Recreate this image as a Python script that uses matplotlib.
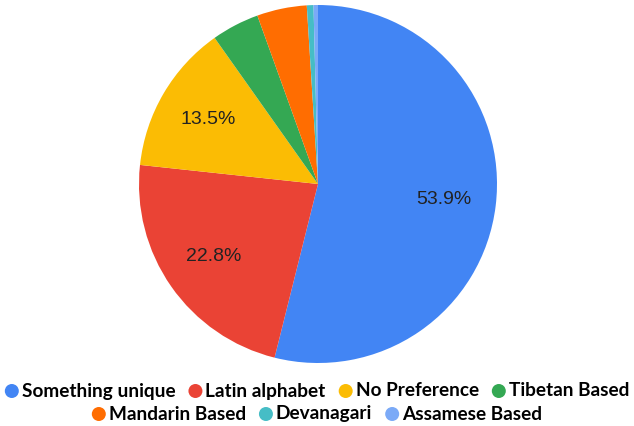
import matplotlib
matplotlib.use("Agg")
import matplotlib.pyplot as plt
from matplotlib.patches import Ellipse

categories = ["Something unique", "Latin alphabet", "No Preference", "Tibetan Based",
              "Mandarin Based", "Devanagari", "Assamese Based"]
values = [53.9, 22.8, 13.5, 4.3, 4.5, 0.6, 0.4]
colors = ["#4285F4", "#EA4335", "#FBBC04", "#34A853", "#FF6D01", "#46BDC6", "#7BAAF7"]
legend_rows = [categories[:4], categories[4:]]

W, H = 634, 426
fig = plt.figure(figsize=(W / 100, H / 100), dpi=100)

cx, cy, r = 318, 184, 179
ax = fig.add_axes([(cx - r) / W, (H - cy - r) / H, 2 * r / W, 2 * r / H])


def fmt(p):
    return f"{p:.1f}%" if p > 5 else ""


wedges, texts, autotexts = ax.pie(values, colors=colors, startangle=90, counterclock=False,
                                  autopct=fmt, pctdistance=0.71,
                                  wedgeprops=dict(linewidth=0),
                                  textprops=dict(fontsize=14, family="Liberation Sans",
                                                 color="#222222"))
ax.set_xlim(-1, 1)
ax.set_ylim(-1, 1)
ax.set_aspect("equal")
ax.axis("off")

# Legend laid out manually, rows centered
fig.canvas.draw()
renderer = fig.canvas.get_renderer()
font = dict(fontsize=13.7, family="Lato", fontweight="bold", color="#000000")
marker_d = 14
gap_after_marker = 3
gap_between = 13
row_y = [391, 414]
color_map = dict(zip(categories, colors))
for row, yp in zip(legend_rows, row_y):
    widths = []
    for name in row:
        t = fig.text(0, 0, name, **font)
        bb = t.get_window_extent(renderer)
        widths.append(bb.width)
        t.remove()
    total = sum(marker_d + gap_after_marker + w for w in widths) + gap_between * (len(row) - 1)
    x = (W - total) / 2
    for name, w in zip(row, widths):
        e = Ellipse(((x + marker_d / 2) / W, (H - yp) / H), marker_d / W, marker_d / H,
                    transform=fig.transFigure, color=color_map[name], linewidth=0)
        fig.patches.append(e)
        fig.text((x + marker_d + gap_after_marker) / W, (H - yp) / H, name,
                 va="center", ha="left", **font)
        x += marker_d + gap_after_marker + w + gap_between

fig.savefig("out.png", dpi=100)
